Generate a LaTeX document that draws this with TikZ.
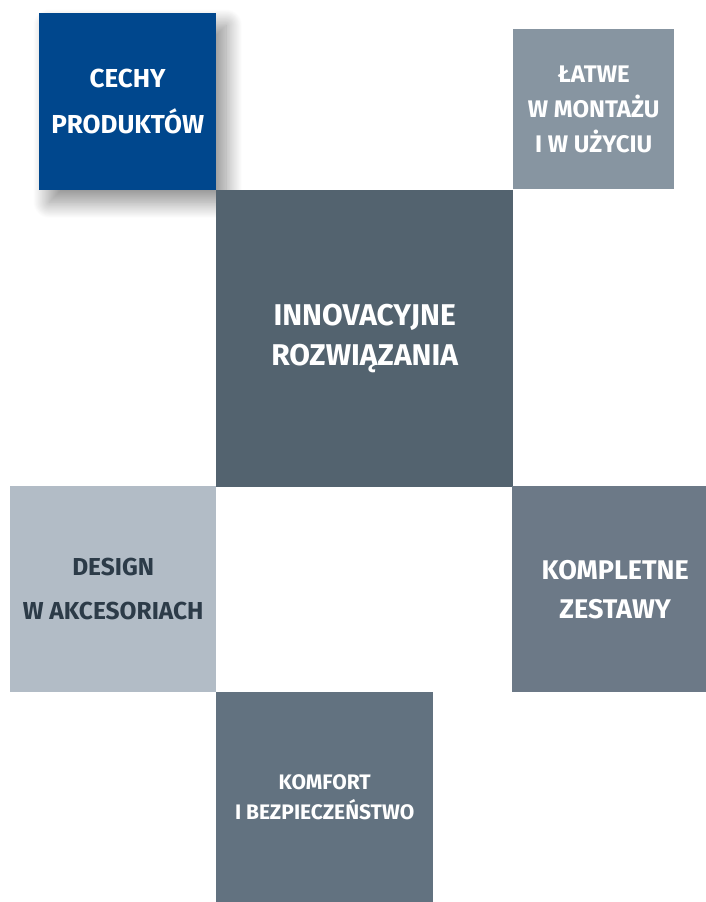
\documentclass[tikz,border=0pt]{standalone}
\usepackage{fontspec}
\setmainfont{Fira Sans}
\usetikzlibrary{positioning, shadows.blur}
\definecolor{cechyblue}{HTML}{00478D}
\definecolor{innowgray}{HTML}{53636F}
\definecolor{latwegray}{HTML}{8795A1}
\definecolor{designgray}{HTML}{B2BCC6}
\definecolor{designtext}{HTML}{2C3B48}
\definecolor{zestawygray}{HTML}{6C7987}
\definecolor{komfortgray}{HTML}{627280}

\begin{document}
\begin{tikzpicture}[
  x=1pt, y=-1pt,
  tile/.style={
    rectangle, inner sep=0pt, anchor=north west,
    align=center, text=white
  },
  tilefont/.style 2 args={
    font=\fontsize{#1}{#2}\selectfont\bfseries
  }
]
  \useasboundingbox (0,0) rectangle (706,902);

  % blue tile with soft shadow
  \node[tile, tilefont={26}{45.5}, fill=cechyblue,
        minimum width=177pt, minimum height=177pt,
        blur shadow={shadow xshift=10pt, shadow yshift=-12pt,
                     shadow blur radius=16pt, shadow blur steps=24,
                     shadow opacity=45}]
        (cechy) at (39,13) {CECHY\\PRODUKTÓW};

  \node[tile, tilefont={24}{35}, fill=latwegray,
        minimum width=161pt, minimum height=160pt]
        (latwe) at (513,29) {ŁATWE\\W MONTAŻU\\I W UŻYCIU};

  \node[tile, tilefont={30}{40}, fill=innowgray,
        minimum width=297pt, minimum height=297pt]
        (innow) at (216,190) {INNOVACYJNE\\ROZWIĄZANIA};

  \node[tile, tilefont={24.5}{44}, fill=designgray, text=designtext,
        minimum width=206pt, minimum height=206pt]
        (design) at (10,486) {DESIGN\\W AKCESORIACH};

  \node[tile, tilefont={27}{39}, fill=zestawygray,
        minimum width=194pt, minimum height=206pt]
        (zestawy) at (512,486) {\hspace*{12pt}KOMPLETNE\\\hspace*{12pt}ZESTAWY};

  \node[tile, tilefont={21}{30}, fill=komfortgray,
        minimum width=217pt, minimum height=210pt]
        (komfort) at (216,692) {KOMFORT\\I BEZPIECZEŃSTWO};
\end{tikzpicture}
\end{document}
